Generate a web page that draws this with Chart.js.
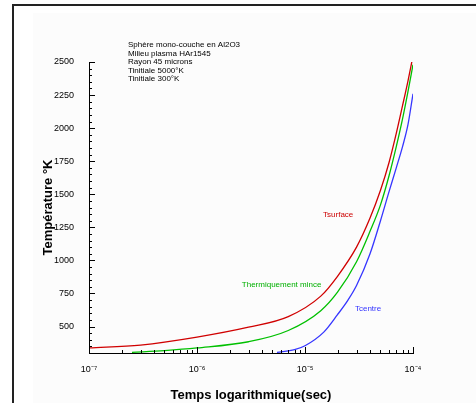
<!DOCTYPE html>
<html>
<head>
<meta charset="utf-8">
<script src="https://cdn.jsdelivr.net/npm/chart.js@4/dist/chart.umd.min.js"></script>
<style>
  body { margin: 0; background: #fff; overflow: hidden; }
  #frame { position: absolute; left: 12px; top: 4px; width: 520px; height: 440px; border: 2px solid #222; }
  #inner { position: absolute; left: 33px; top: 13px; width: 520px; height: 440px; background: #fcfcfc; }
  #wrap { position: absolute; left: 0; top: 0; width: 476px; height: 403px; }
</style>
</head>
<body>
<div id="frame"></div>
<div id="inner"></div>
<div id="wrap"><canvas id="chart" width="476" height="403"></canvas></div>
<script>
// time in seconds, temperature in K
const timeSurface = [1e-7, 3e-7, 1e-6, 3e-6, 7e-6, 1.4e-5, 2e-5, 3e-5, 4e-5, 5e-5, 6e-5, 7e-5, 8e-5, 9e-5, 9.8e-5];
const tempSurface = [338, 360, 420, 495, 575, 730, 880, 1100, 1320, 1530, 1740, 1960, 2170, 2360, 2510];

const timeMince = [2.5e-7, 5e-7, 1e-6, 3e-6, 7e-6, 1.4e-5, 2e-5, 3e-5, 4e-5, 5e-5, 6e-5, 7e-5, 8e-5, 9e-5, 1e-4];
const tempMince = [305, 318, 338, 385, 470, 620, 760, 990, 1220, 1420, 1640, 1860, 2070, 2280, 2480];

const timeCentre = [5.5e-6, 8e-6, 1e-5, 1.5e-5, 2e-5, 2.5e-5, 3e-5, 4e-5, 5e-5, 6e-5, 7e-5, 8e-5, 9e-5, 1e-4];
const tempCentre = [305, 325, 355, 460, 590, 700, 810, 1050, 1300, 1520, 1700, 1860, 2030, 2260];

const xTicks = [1e-7, 1e-6, 1e-5, 1e-4];
const xTickLabels = ["10\u207B\u2077", "10\u207B\u2076", "10\u207B\u2075", "10\u207B\u2074"];
const yTicks = [500, 750, 1000, 1250, 1500, 1750, 2000, 2250, 2500];

const infoLines = [
  "Sphère mono-couche en Al2O3",
  "Milieu plasma HAr1545",
  "Rayon 45 microns",
  "Tinitiale 5000°K",
  "Tinitiale 300°K"
];

// curve labels, anchored in data coordinates
const curveLabels = [
  { text: "Tsurface", x: 1.47e-5, y: 1342, color: "#cc0000" },
  { text: "Thermiquement mince", x: 2.6e-6, y: 814, color: "#00b000" },
  { text: "Tcentre", x: 2.9e-5, y: 632, color: "#3333ff" }
];

const FONT = "'Liberation Sans', Arial, sans-serif";

function toPoints(xs, ys) {
  return xs.map((x, i) => ({ x: x, y: ys[i] }));
}

// inward ticks, major and minor, plus text annotations
const extras = {
  id: "extras",
  afterDraw(chart) {
    const ctx = chart.ctx;
    const xs = chart.scales.x;
    const ys = chart.scales.y;
    const area = chart.chartArea;
    ctx.save();
    ctx.strokeStyle = "#000";
    ctx.lineWidth = 1;
    ctx.beginPath();
    for (let v = 300; v <= 2500; v += 50) {
      const py = Math.round(ys.getPixelForValue(v)) + 0.5;
      const len = v % 250 === 0 ? 6 : 3;
      ctx.moveTo(area.left, py);
      ctx.lineTo(area.left + len, py);
    }
    // decades 1e-7 .. 1e-5 with their minor ticks, then the closing 1e-4
    for (let e = -7; e <= -5; e++) {
      for (let m = 1; m <= 9; m++) {
        const v = m * Math.pow(10, e);
        const px = Math.round(xs.getPixelForValue(v)) + 0.5;
        const len = m === 1 ? 6 : 3;
        ctx.moveTo(px, area.bottom);
        ctx.lineTo(px, area.bottom - len);
      }
    }
    const pEnd = Math.round(xs.getPixelForValue(1e-4)) + 0.5;
    ctx.moveTo(pEnd, area.bottom);
    ctx.lineTo(pEnd, area.bottom - 6);
    ctx.stroke();

    ctx.font = "8px " + FONT;
    ctx.fillStyle = "#000";
    ctx.textBaseline = "middle";
    infoLines.forEach((line, i) => {
      ctx.fillText(line, area.left + 39, area.top - 17 + i * 8.5);
    });

    curveLabels.forEach(l => {
      ctx.fillStyle = l.color;
      ctx.fillText(l.text, xs.getPixelForValue(l.x), ys.getPixelForValue(l.y));
    });
    ctx.restore();
  }
};

const lineStyle = {
  pointRadius: 0,
  borderWidth: 1.3,
  cubicInterpolationMode: "monotone",
  fill: false
};

new Chart(document.getElementById("chart"), {
  type: "line",
  data: {
    datasets: [
      Object.assign({ label: "Tsurface", data: toPoints(timeSurface, tempSurface), borderColor: "#d00000" }, lineStyle),
      Object.assign({ label: "Thermiquement mince", data: toPoints(timeMince, tempMince), borderColor: "#00c000" }, lineStyle),
      Object.assign({ label: "Tcentre", data: toPoints(timeCentre, tempCentre), borderColor: "#3535ff" }, lineStyle)
    ]
  },
  options: {
    responsive: false,
    animation: false,
    layout: { padding: { top: 62, right: 63, left: 41, bottom: 0 } },
    plugins: { legend: { display: false }, tooltip: { enabled: false } },
    scales: {
      x: {
        type: "logarithmic",
        min: 1e-7,
        max: 1e-4,
        afterBuildTicks: scale => { scale.ticks = xTicks.map(v => ({ value: v })); },
        afterFit: scale => { scale.height = 50; },
        ticks: {
          autoSkip: false,
          maxRotation: 0,
          padding: 3,
          color: "#000",
          font: { family: FONT, size: 9 },
          callback: (value) => {
            const i = xTicks.findIndex(t => Math.abs(t - value) / t < 1e-6);
            return i >= 0 ? xTickLabels[i] : "";
          }
        },
        grid: { display: false },
        border: { display: true, color: "#000", width: 1 },
        title: {
          display: true,
          text: "Temps logarithmique(sec)",
          color: "#000",
          font: { family: FONT, size: 13, weight: "bold" },
          padding: { top: 6, bottom: 0 }
        }
      },
      y: {
        min: 300,
        max: 2500,
        afterBuildTicks: scale => { scale.ticks = yTicks.map(v => ({ value: v })); },
        afterFit: scale => { scale.width = 48; },
        ticks: {
          padding: 7,
          color: "#000",
          font: { family: FONT, size: 9 },
          callback: v => String(v)
        },
        grid: { display: false },
        border: { display: true, color: "#000", width: 1 },
        title: {
          display: true,
          text: "Température °K",
          color: "#000",
          font: { family: FONT, size: 13, weight: "bold" },
          padding: { top: 0, bottom: 4 }
        }
      }
    }
  },
  plugins: [extras]
});
</script>
</body>
</html>
